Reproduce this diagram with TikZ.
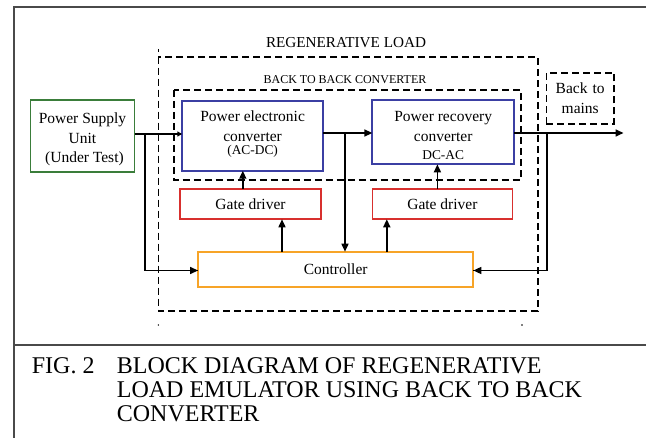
\documentclass[tikz,border=0pt]{standalone}
\usepackage{fontspec}
\setmainfont{Liberation Serif}
\usetikzlibrary{arrows.meta}
\definecolor{gboxc}{HTML}{3A7D3A}
\definecolor{bboxc}{HTML}{3B3FA3}
\definecolor{rboxc}{HTML}{D8302E}
\definecolor{oboxc}{HTML}{F7A428}
\definecolor{framec}{HTML}{4A4A4A}
\tikzset{
  blk/.style={draw, line width=1.8pt, inner sep=0pt, outer sep=0pt, align=center,
    font=\fontsize{15.5}{19.5}\selectfont},
  dbox/.style={draw, line width=1.8pt, dash pattern=on 7pt off 4pt},
  conn/.style={line width=1.6pt},
  arr/.style={conn, -{Triangle[length=8pt,width=7pt]}},
  sarr/.style={conn, -{Triangle[length=5pt,width=5pt]}},
  lbl/.style={inner sep=0pt, align=center},
  btxt/.style={inner sep=0pt, align=center, font=\fontsize{15.5}{19.5}\selectfont},
}
\begin{document}
\begin{tikzpicture}[x=1pt,y=-1pt]
\useasboundingbox (0,0) rectangle (646,438);
% outer frame
\draw[framec, line width=1.3pt] (14,438) -- (14,7) -- (646,7);
\draw[framec, line width=1.3pt] (14,345) -- (646,345);
% dashed enclosures
\draw[dbox] (158.4,56.7) rectangle (538.3,310.7);
\draw[line width=1.5pt] (158.4,49) -- (158.4,52);
\fill (158.4,325) circle (0.8pt);
\fill (522,325) circle (0.8pt);
\draw[dbox] (173.7,90) rectangle (520.6,180);
\node[lbl, font=\fontsize{15.2}{18}\selectfont] (rl) at (346,43) {REGENERATIVE LOAD};
\node[lbl, font=\fontsize{12}{14}\selectfont] (bb) at (345,79.5) {BACK TO BACK CONVERTER};
% blocks
\node[blk, draw=gboxc, minimum width=104pt, minimum height=72pt] (psu) at (82.5,136) {};
\node[btxt] (psut) at (82.5,139.6) {Power Supply\\Unit\\\ (Under Test)};
\node[blk, draw=bboxc, minimum width=140.7pt, minimum height=69.7pt] (pec) at (252.6,135.9) {};
\node[btxt] (pect) at (252.6,134.3)
  {Power electronic\\converter\\[-6.5pt]{\fontsize{13.4}{15}\selectfont (AC-DC)}};
\node[blk, draw=bboxc, minimum width=141.7pt, minimum height=64.3pt] (prc) at (443.2,132.2) {};
\node[btxt] (prct) at (443.2,135.5)
  {Power recovery\\converter\\[-1.2pt]{\fontsize{13.4}{15}\selectfont DC-AC}};
\node[blk, draw=rboxc, minimum width=141pt, minimum height=30.6pt] (gd1) at (250.5,204) {Gate driver};
\node[blk, draw=rboxc, minimum width=140pt, minimum height=30.6pt] (gd2) at (442.4,204) {Gate driver};
\node[blk, draw=oboxc, minimum width=275.3pt, minimum height=35.6pt] (ctrl) at (335.7,269.5) {Controller};
\node[blk, dbox, minimum width=67.5pt, minimum height=51.3pt, text width=60pt] (btm) at (580.2,98.3)
  {Back to\\mains};
% helper coordinates
\coordinate (j1) at (145,134);
\coordinate (j2) at (345,133);
\coordinate (j3) at (547,133);
\coordinate (out) at (623.5,133);
\coordinate (xa) at (242.8,0);
\coordinate (xb) at (437.4,0);
\coordinate (xc) at (282,0);
\coordinate (xd) at (386.8,0);
% connectors
\draw[sarr] (psu.east |- j1) -- (pec.west |- j1);
\draw[conn] (j1) |- ([yshift=-1pt]ctrl.west);
\draw[arr] ([yshift=-1pt]ctrl.west -| j1) -- ([yshift=-1pt]ctrl.west);
\draw[arr] (pec.east |- j2) -- (prc.west |- j2);
\draw[arr] (j2) -- (j2 |- ctrl.north);
\draw[arr] (prc.east |- out) -- (out);
\draw[conn] (j3) |- ([yshift=-1pt]ctrl.east);
\draw[arr] ([yshift=-1pt]ctrl.east -| j3) -- ([yshift=-1pt]ctrl.east);
\draw[arr] (gd1.north -| xa) -- (pec.south -| xa);
\draw[arr] (gd2.north -| xb) -- (prc.south -| xb);
\draw[arr] (ctrl.north -| xc) -- (gd1.south -| xc);
\draw[arr] (ctrl.north -| xd) -- (gd2.south -| xd);
% caption
\node[inner sep=0pt, anchor=base west, font=\fontsize{24}{24.2}\selectfont] (fig) at (31.7,373.3) {FIG. 2};
\node[inner sep=0pt, anchor=north west, align=left, font=\fontsize{24}{24.2}\selectfont] (cap) at (116.7,357.1)
  {BLOCK DIAGRAM OF REGENERATIVE\\LOAD EMULATOR USING BACK TO BACK\\CONVERTER};
\end{tikzpicture}
\end{document}
